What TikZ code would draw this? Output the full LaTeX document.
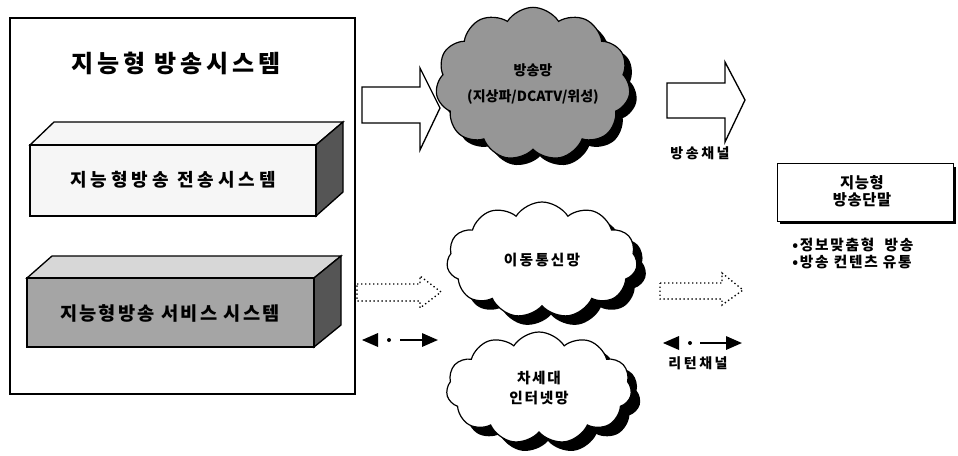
\documentclass[tikz,border=0pt]{standalone}
\usepackage{fontspec}
\setmainfont{Noto Sans CJK KR}
\usetikzlibrary{shapes.symbols,arrows.meta}
\definecolor{cloudgray}{RGB}{150,150,150}
\definecolor{boxgray}{RGB}{165,165,165}
\definecolor{boxtop}{RGB}{215,215,215}
\definecolor{boxside}{RGB}{85,85,85}
\definecolor{boxwhite}{RGB}{246,246,246}
\newcommand\lsp[1]{\addfontfeatures{LetterSpace=#1}}
\begin{document}
\begin{tikzpicture}[x=0.75pt,y=-0.75pt,
  txt/.style={inner sep=0pt, font=\bfseries\fontsize{11}{14}\selectfont, align=center},
  cloudbase/.style={cloud, cloud puffs=11, cloud puff arc=115, cloud ignores aspect, inner sep=0pt, align=center},
  cloudw/.style={cloudbase, draw, line width=0.9pt, fill=white},
  cloudg/.style={cloudbase, draw, line width=0.9pt, fill=cloudgray},
  cloudsh/.style={cloudbase, fill=black},
  bigarrow/.style={draw, line width=1pt, fill=white, line join=miter},
  dotarrow/.style={draw, line width=1pt, dotted, fill=white},
  frontface/.style={draw, line width=1pt},
  dbl/.style={line width=1.6pt},
]
\useasboundingbox (0,0) rectangle (958,455);

% main system box
\node[draw, line width=1.1pt, inner sep=0pt, minimum width=258.75pt, minimum height=282pt] (sys) at (182.5,206) {};
\node[txt, font=\bfseries\fontsize{18}{20}\selectfont\lsp{16}] (title) at (176,63) {지능형 방송시스템};

% box 1 (transmission system)
\filldraw[frontface, fill=boxwhite] (30,145) -- (54,122) -- (343,122) -- (316,145) -- cycle;
\filldraw[frontface, fill=boxside] (316,145) -- (343,122) -- (343,192) -- (316,216) -- cycle;
\filldraw[frontface, fill=boxwhite] (30,145) rectangle (316,216);
\node[txt, font=\bfseries\fontsize{13.5}{15}\selectfont\lsp{22}] (tx) at (173,180) {지능형방송 전송시스템};

% box 2 (service system)
\filldraw[frontface, fill=boxtop] (27,278) -- (52,256) -- (341,256) -- (314,278) -- cycle;
\filldraw[frontface, fill=boxside] (314,278) -- (341,256) -- (341,325) -- (314,347) -- cycle;
\filldraw[frontface, fill=boxgray] (27,278) rectangle (314,347);
\node[txt, font=\bfseries\fontsize{14}{15}\selectfont\lsp{12}] (svc) at (170,313) {지능형방송 서비스 시스템};

% clouds (shadow first, then cloud)
\node[cloudsh, minimum width=146pt, minimum height=115pt] (bcs) at (540,91) {};
\node[cloudg, minimum width=146pt, minimum height=115pt, font=\bfseries\fontsize{10.5}{19}\selectfont] (bc) at (533,84) {방송망\\(지상파/DCATV/위성)};
\node[cloudsh, minimum width=143pt, minimum height=87pt] (mobs) at (551,269) {};
\node[cloudw, minimum width=143pt, minimum height=87pt, font=\bfseries\fontsize{11}{14}\selectfont\lsp{15}] (mob) at (542,260) {이동통신망};
\node[cloudsh, minimum width=139pt, minimum height=84pt] (nets) at (548,397) {};
\node[cloudw, minimum width=139pt, minimum height=84pt, font=\bfseries\fontsize{11}{15}\selectfont\lsp{12}] (net) at (539,388) {차세대\\인터넷망};

% big white arrows
\filldraw[bigarrow] (362,87) -- (420,87) -- (420,68) -- (440,108) -- (420,150) -- (420,123) -- (362,123) -- cycle;
\filldraw[bigarrow] (667,83) -- (725,83) -- (725,62) -- (745,100) -- (725,142) -- (725,118) -- (667,118) -- cycle;

% dotted arrows
\filldraw[dotarrow] (357,284) -- (420,284) -- (420,276) -- (441,292) -- (420,308) -- (420,301) -- (357,301) -- cycle;
\filldraw[dotarrow] (660,283) -- (722,283) -- (722,273) -- (743,290) -- (722,305) -- (722,299) -- (660,299) -- cycle;

% return channel double arrows
\coordinate (la1) at (362,340);
\coordinate (la2) at (400,340);
\coordinate (la3) at (438,340);
\fill (la1) -- ++(16,-7) -- ++(0,14) -- cycle;
\fill (389,340) circle (2);
\draw[dbl, -{Triangle[length=12pt,width=10pt]}] (la2) -- (la3);

\coordinate (ra1) at (663,343);
\coordinate (ra2) at (700,343);
\coordinate (ra3) at (742,343);
\fill (ra1) -- ++(16,-7) -- ++(0,14) -- cycle;
\fill (690,343) circle (2);
\draw[dbl, -{Triangle[length=12pt,width=10pt]}] (ra2) -- (ra3);

% labels
\node[txt, font=\bfseries\fontsize{10.5}{13}\selectfont\lsp{18}] (bch) at (700,153) {방송채널};
\node[txt, font=\bfseries\fontsize{10.5}{13}\selectfont\lsp{18}] (rch) at (698,363) {리턴채널};

% terminal
\fill (780,167) rectangle (956,224);
\node[draw, line width=0.9pt, fill=white, inner sep=0pt, minimum width=132pt, minimum height=43pt] (term) at (865.5,192.5) {};
\node[txt, font=\bfseries\fontsize{11.5}{13}\selectfont\lsp{4}] (termt) at (862,191.5) {지능형\\방송단말};
\node[txt, anchor=west, align=left, font=\bfseries\fontsize{11}{13}\selectfont\lsp{12}] (feat) at (792,253.5) {•정보맞춤형\ \ 방송\\•방송 컨텐츠 유통};
\end{tikzpicture}
\end{document}
